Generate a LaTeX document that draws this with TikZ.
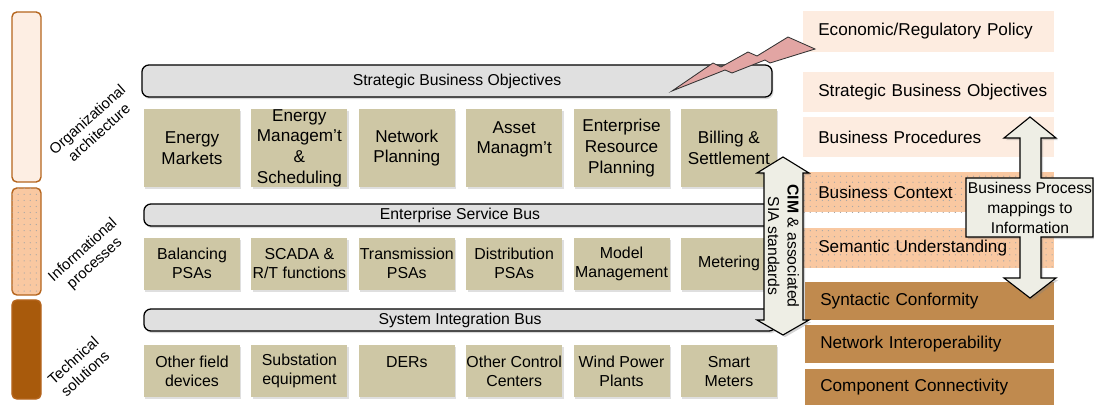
\documentclass[tikz,border=0pt]{standalone}
\usepackage{fontspec}
\setmainfont{Liberation Sans}
\usepackage{tikz}
\usetikzlibrary{positioning, shadows, patterns.meta}

\definecolor{layerline}{HTML}{B5651D}
\definecolor{orgfill}{HTML}{FDEEE3}
\definecolor{infofill}{HTML}{F9C8A1}
\definecolor{techfill}{HTML}{A85A0C}
\definecolor{khaki}{HTML}{CEC7A5}
\definecolor{busgray}{HTML}{E0E0E0}
\definecolor{stacklight}{HTML}{FDECE0}
\definecolor{stackbrown}{HTML}{C08A4E}
\definecolor{boltpink}{HTML}{E2A5A3}
\definecolor{arrowfill}{HTML}{EEEEE5}

\begin{document}
\begin{tikzpicture}[
			x=0.025cm, y=-0.025cm,
			node distance=0.27cm,
			layer/.style={draw=layerline, line width=1pt, rounded corners=3.5pt, minimum width=0.725cm, inner sep=0pt},
			dotfill/.style={postaction={pattern={Dots[distance=4.3pt, radius=0.45pt]}, pattern color=black!35}},
			layerlabel/.style={rotate=42, align=center, font=\fontsize{10.6}{12.5}\selectfont},
			bus/.style={draw, line width=0.9pt, fill=busgray, rounded corners=5pt, inner sep=0pt, font=\fontsize{11.2}{13}\selectfont, drop shadow={shadow xshift=1pt, shadow yshift=-1.5pt, opacity=0.3}},
			func/.style={fill=khaki, minimum width=2.4cm, inner sep=0pt, align=center, drop shadow={shadow xshift=1pt, shadow yshift=-1.5pt, opacity=0.25}},
			bizfunc/.style={func, minimum height=1.95cm, font=\fontsize{12.2}{14.7}\selectfont},
			sysfunc/.style={func, minimum height=1.3cm, font=\fontsize{11.3}{13.5}\selectfont},
			level/.style={anchor=west, inner xsep=0.0875cm, inner ysep=0pt, text width=6.1cm, align=left, minimum height=1cm, font=\fontsize{12.2}{14}\selectfont, execute at begin node={\hspace*{0.2875cm}}},
			bigarrow/.style={draw, line width=0.8pt, fill=arrowfill, drop shadow={shadow xshift=1.5pt, shadow yshift=-1.5pt, opacity=0.35}}
			]
			\useasboundingbox (0,0) rectangle (1094,406);
			
			% --- Layer bars on the left ---
			\node[layer, fill=orgfill, minimum height=4.25cm] (org) at (26.5,97) {};
			\node[layer, fill=infofill, dotfill, minimum height=2.675cm] (info) at (26.5,241.5) {};
			\node[layer, fill=techfill, minimum height=2.475cm] (tech) at (26.5,349.5) {};
			\node[layerlabel] (orglabel) at (93,126) {Organizational\\architecture};
			\node[layerlabel] (infolabel) at (89,257) {Informational\\processes};
			\node[layerlabel] (techlabel) at (79,367) {Technical\\solutions};
			
			% --- Buses ---
			\node[bus, minimum width=15.75cm, minimum height=0.8cm] (sbo) at (457,81) {Strategic Business Objectives};
			\node[bus, minimum width=15.8cm, minimum height=0.55cm] (esb) at (460,215) {Enterprise Service Bus};
			\node[bus, minimum width=15.8cm, minimum height=0.55cm] (sib) at (460,320) {System Integration Bus};
			
			% --- Business functions ---
			\node[bizfunc] (mkt) at (192,148) {Energy\\Markets};
			\node[bizfunc, right=of mkt] (ems) {Energy\\Managem’t\\\&\\Scheduling};
			\node[bizfunc, right=of ems] (plan) {Network\\Planning};
			\node[bizfunc, right=of plan] (asset) {Asset\\Managm’t\\\mbox{}};
			\node[bizfunc, right=of asset] (erp) {Enterprise\\Resource\\Planning};
			\node[bizfunc, right=of erp] (bill) {Billing \&\\Settlement};
			
			% --- Power system applications ---
			\node[sysfunc, below=1.25cm of mkt] (bal) {Balancing\\PSAs};
			\node[sysfunc, right=of bal] (scada) {SCADA \&\\R/T functions};
			\node[sysfunc, right=of scada] (trans) {Transmission\\PSAs};
			\node[sysfunc, right=of trans] (dist) {Distribution\\PSAs};
			\node[sysfunc, right=of dist] (model) {Model\\Management};
			\node[sysfunc, right=of model] (meter) {Metering};
			
			% --- Field side ---
			\node[sysfunc, below=1.375cm of bal] (field) {Other field\\devices};
			\node[sysfunc, right=of field] (subst) {Substation\\equipment};
			\node[sysfunc, right=of subst] (der) {DERs\\\mbox{}};
			\node[sysfunc, right=of der] (occ) {Other Control\\Centers};
			\node[sysfunc, right=of occ] (wind) {Wind Power\\Plants};
			\node[sysfunc, right=of wind] (smart) {Smart\\Meters};
			
			% --- Interoperability stack on the right ---
			\node[level, fill=stacklight, minimum height=1.025cm] (eco) at (803,31.5) {Economic/Regulatory Policy};
			\node[level, fill=stacklight] (obj) at (803,92) {Strategic Business Objectives};
			\node[level, fill=stacklight] (proc) at (803,137) {Business Procedures};
			\node[level, fill=infofill, dotfill] (ctx) at (803,192) {Business Context};
			\node[level, fill=infofill, dotfill] (sem) at (803,248) {Semantic Understanding};
			\node[level, fill=stackbrown, minimum height=0.95cm, text width=6.05cm] (syn) at (805,301) {Syntactic Conformity};
			\node[level, fill=stackbrown, minimum height=0.95cm, text width=6.05cm] (net) at (805,344) {Network Interoperability};
			\node[level, fill=stackbrown, minimum height=0.9cm, text width=6.05cm] (comp) at (805,387) {Component Connectivity};
			
			% --- Lightning from the policy level ---
			\filldraw[fill=boltpink, draw=black!80, line width=0.6pt, line join=miter]
				(672,91) -- (713,63) -- (721,67) -- (748,52) -- (757,56) -- (788,37) -- (815,49)
				-- (770,63) -- (765,60) -- (732,73) -- (725,70) -- cycle;
			
			% --- CIM arrow ---
			\draw[bigarrow] (783,157) -- (809,173) -- (803,173) -- (803,320) -- (809,320) -- (783,335)
				-- (757,320) -- (764,320) -- (764,173) -- (757,173) -- cycle;
			\node[rotate=-90, align=center, font=\fontsize{11.2}{14}\selectfont] (cim) at (783.5,246) {\textbf{CIM} \& associated\\SIA standards};
			
			% --- Business process arrow ---
			\draw[bigarrow] (1030,117) -- (1056,138) -- (1041,138) -- (1041,178) -- (1093,178) -- (1093,237)
				-- (1041,237) -- (1041,278) -- (1056,278) -- (1030,298) -- (1004,278) -- (1020,278)
				-- (1020,237) -- (966,237) -- (966,178) -- (1020,178) -- (1020,138) -- (1004,138) -- cycle;
			\node[align=center, font=\fontsize{11.1}{14.2}\selectfont] (bpm) at (1030,207.5) {Business Process\\mappings to\\Information};
			
		\end{tikzpicture}
\end{document}
